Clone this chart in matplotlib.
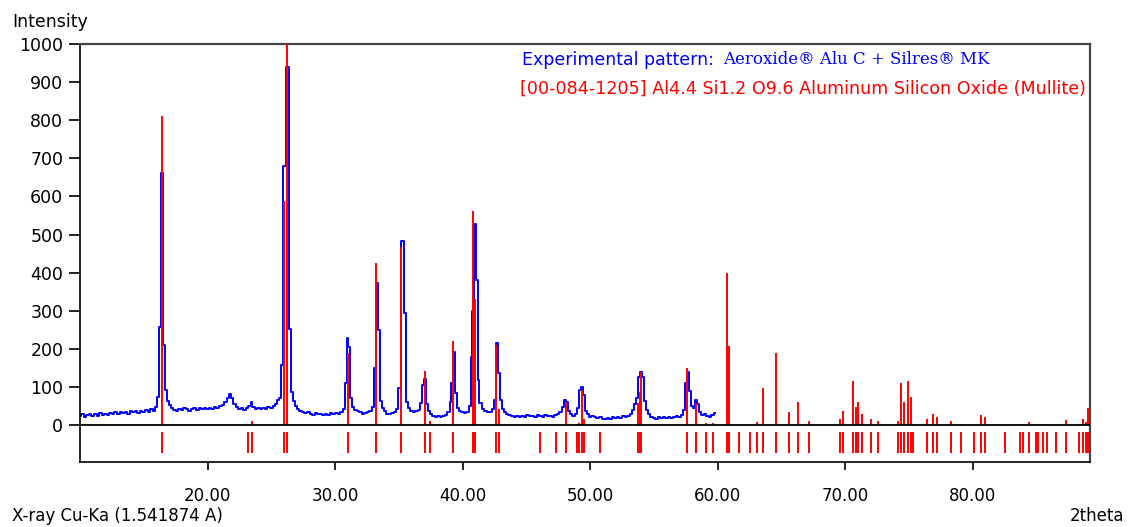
import matplotlib
matplotlib.use("Agg")
import matplotlib.pyplot as plt

# Experimental XRD pattern (2theta in degrees, intensity in counts)
exp_tth = [
    10.0, 10.2, 10.4, 10.6, 10.8, 11.0, 11.2, 11.4, 11.6, 11.8,
    12.0, 12.2, 12.4, 12.6, 12.8, 13.0, 13.2, 13.4, 13.6, 13.8,
    14.0, 14.2, 14.4, 14.6, 14.8, 15.0, 15.2, 15.4, 15.6, 15.8,
    16.0, 16.15, 16.3, 16.45, 16.6, 16.75, 16.9, 17.05, 17.2, 17.4,
    17.6, 17.8, 18.0, 18.2, 18.4, 18.6, 18.8, 19.0, 19.2, 19.4,
    19.6, 19.8, 20.0, 20.2, 20.4, 20.6, 20.8, 21.0, 21.2, 21.4,
    21.6, 21.75, 21.9, 22.1, 22.3, 22.5, 22.7, 22.9, 23.1, 23.3,
    23.45, 23.6, 23.8, 24.0, 24.2, 24.4, 24.6, 24.8, 25.0, 25.2,
    25.4, 25.55, 25.7, 25.85, 26.05, 26.3, 26.45, 26.6, 26.75, 26.9,
    27.1, 27.3, 27.5, 27.7, 27.9, 28.1, 28.3, 28.5, 28.7, 28.9,
    29.1, 29.3, 29.5, 29.7, 29.9, 30.1, 30.3, 30.5, 30.7, 30.85,
    31.0, 31.1, 31.25, 31.4, 31.6, 31.8, 32.0, 32.2, 32.4, 32.6,
    32.8, 32.95, 33.1, 33.3, 33.45, 33.6, 33.75, 33.9, 34.1, 34.3,
    34.5, 34.7, 34.9, 35.05, 35.35, 35.5, 35.65, 35.8, 36.0, 36.2,
    36.4, 36.6, 36.75, 36.9, 37.05, 37.2, 37.35, 37.5, 37.7, 37.9,
    38.1, 38.3, 38.5, 38.7, 38.9, 39.05, 39.15, 39.3, 39.45, 39.6,
    39.8, 40.0, 40.2, 40.4, 40.55, 40.7, 40.85, 41.0, 41.1, 41.25,
    41.4, 41.6, 41.8, 42.0, 42.2, 42.4, 42.55, 42.7, 42.85, 43.0,
    43.15, 43.3, 43.5, 43.7, 43.9, 44.1, 44.3, 44.5, 44.7, 44.9,
    45.1, 45.3, 45.5, 45.7, 45.9, 46.1, 46.3, 46.5, 46.7, 46.9,
    47.1, 47.3, 47.5, 47.7, 47.9, 48.05, 48.2, 48.35, 48.5, 48.7,
    48.9, 49.05, 49.2, 49.35, 49.5, 49.65, 49.8, 50.0, 50.2, 50.4,
    50.6, 50.8, 51.0, 51.2, 51.4, 51.6, 51.8, 52.0, 52.2, 52.4,
    52.6, 52.8, 53.0, 53.2, 53.4, 53.55, 53.7, 53.85, 54.0, 54.15,
    54.3, 54.45, 54.6, 54.8, 55.0, 55.2, 55.4, 55.6, 55.8, 56.0,
    56.2, 56.4, 56.6, 56.8, 57.0, 57.2, 57.4, 57.55, 57.7, 57.85,
    58.0, 58.15, 58.3, 58.45, 58.6, 58.8, 59.0, 59.2, 59.4, 59.6,
    59.8,
]
exp_counts = [
    24, 28, 22, 26, 30, 25, 29, 23, 31, 27,
    30, 26, 32, 28, 33, 29, 34, 31, 35, 30,
    36, 33, 37, 32, 38, 35, 39, 34, 41, 38,
    48, 74, 258, 662, 210, 92, 64, 52, 44, 40,
    38, 43, 40, 44, 41, 37, 43, 45, 40, 44,
    42, 46, 41, 45, 42, 47, 44, 49, 52, 60,
    72, 82, 70, 56, 48, 42, 45, 40, 44, 50,
    60, 48, 42, 45, 41, 46, 43, 47, 45, 50,
    55, 66, 72, 157, 680, 940, 252, 87, 62, 50,
    42, 38, 34, 31, 33, 29, 27, 31, 28, 30,
    26, 29, 27, 31, 28, 31, 29, 34, 42, 111,
    229, 205, 70, 48, 40, 36, 33, 30, 32, 35,
    38, 48, 151, 372, 249, 63, 45, 36, 30, 28,
    31, 34, 42, 96, 484, 293, 61, 45, 38, 34,
    36, 40, 58, 105, 122, 55, 38, 30, 24, 22,
    24, 21, 23, 26, 34, 60, 110, 192, 83, 44,
    36, 33, 31, 34, 50, 179, 300, 528, 380, 118,
    57, 42, 36, 33, 35, 42, 66, 216, 136, 66,
    42, 34, 30, 27, 24, 22, 25, 20, 24, 22,
    26, 23, 25, 21, 27, 24, 22, 26, 23, 25,
    22, 26, 28, 33, 48, 66, 60, 38, 28, 24,
    30, 45, 92, 100, 80, 38, 28, 22, 25, 20,
    18, 22, 17, 16, 19, 17, 20, 18, 22, 19,
    24, 22, 25, 28, 40, 55, 70, 126, 140, 126,
    62, 39, 28, 22, 19, 17, 20, 18, 21, 19,
    22, 18, 20, 23, 21, 26, 40, 110, 138, 90,
    50, 45, 66, 55, 35, 26, 30, 24, 20, 26,
    32,
]

# Reference pattern 00-084-1205 (Mullite): line positions and relative intensities
ref_tth = [
    16.40, 23.16, 23.47, 25.98, 26.25, 31.00, 33.20, 35.20, 37.05, 37.47,
    39.24, 40.81, 40.97, 42.59, 42.82, 46.04, 47.35, 48.08, 48.97, 49.12,
    49.39, 49.49, 50.80, 53.75, 53.90, 54.02, 57.62, 58.33, 59.06, 59.63,
    60.73, 60.89, 61.70, 62.51, 63.10, 63.56, 64.60, 65.57, 66.30, 67.20,
    69.60, 69.80, 70.61, 70.82, 71.02, 71.30, 72.00, 72.54, 74.14, 74.40,
    74.64, 74.90, 75.14, 75.32, 76.44, 76.89, 77.18, 78.33, 79.06, 80.08,
    80.66, 80.94, 82.51, 83.69, 83.92, 84.42, 84.96, 85.10, 85.50, 85.80,
    86.56, 87.29, 88.36, 88.68, 88.88, 89.04,
]
ref_int = [
    810, 2, 10, 588, 1000, 188, 426, 466, 143, 10,
    220, 563, 330, 210, 41, 3, 4, 61, 4, 6,
    92, 15, 4, 57, 87, 140, 151, 57, 6, 6,
    398, 208, 3, 3, 9, 96, 188, 35, 61, 10,
    15, 38, 115, 48, 61, 29, 15, 10, 11, 111,
    61, 115, 74, 2, 15, 29, 20, 11, 2, 2,
    26, 22, 2, 2, 2, 9, 2, 2, 2, 4,
    2, 13, 4, 15, 8, 45,
]

x_ticks = [20, 30, 40, 50, 60, 70, 80]
y_ticks = [0, 100, 200, 300, 400, 500, 600, 700, 800, 900, 1000]

BLUE = "#0000FF"
RED = "#FF0000"
plt.rcParams["font.family"] = ["DejaVu Sans"]

fig = plt.figure(figsize=(11.3, 5.27), dpi=100)
ax = fig.add_axes([80 / 1130, 1 - 462 / 527, 1010 / 1130, 418 / 527])

ax.set_xlim(10.0, 89.2)
ax.set_ylim(-97, 1000)

# experimental pattern
ax.plot(exp_tth, exp_counts, color=BLUE, lw=1.4, drawstyle="steps-mid", zorder=2)

# reference sticks above the baseline and marker row below it
ax.vlines(ref_tth, 0, ref_int, color=RED, lw=1.4, zorder=3)
ax.vlines(ref_tth, -73, -18, color=RED, lw=1.4, zorder=3)

ax.axhline(0, color="black", lw=1.3, zorder=4)

# frame
for side in ("left", "bottom"):
    ax.spines[side].set_color("black")
    ax.spines[side].set_linewidth(1.2)
for side in ("top", "right"):
    ax.spines[side].set_color("#444444")
    ax.spines[side].set_linewidth(1.6)

ax.set_xticks(x_ticks)
ax.set_xticklabels([f"{v:.2f}" for v in x_ticks])
ax.set_yticks(y_ticks)
ax.set_yticklabels([str(v) for v in y_ticks])
ax.tick_params(axis="x", direction="out", length=6, width=1.2, pad=12,
               labelsize=12, colors="black")
ax.tick_params(axis="y", direction="out", length=8, width=1.2, pad=4,
               labelsize=12.5, colors="black")

# axis captions
fig.text(12 / 1130, 1 - 22 / 527, "Intensity", fontsize=12.5, va="center", ha="left")
fig.text(12 / 1130, 1 - 516 / 527, "X-ray Cu-Ka (1.541874 A)", fontsize=12,
         va="center", ha="left")
fig.text(1124 / 1130, 1 - 516 / 527, "2theta", fontsize=12, va="center", ha="right")

# legend lines
t1 = fig.text(522 / 1130, 1 - 60 / 527, "Experimental pattern:", color=BLUE,
              fontsize=12.5, va="center", ha="left")
fig.canvas.draw()
bb = t1.get_window_extent()
x_next = fig.transFigure.inverted().transform((bb.x1 + 9, 0))[0]
fig.text(x_next, 1 - 60 / 527, "Aeroxide® Alu C + Silres® MK", color=BLUE,
         fontsize=12, family="DejaVu Serif", va="center", ha="left")
fig.text(520 / 1130, 1 - 89 / 527,
         "[00-084-1205] Al4.4 Si1.2 O9.6 Aluminum Silicon Oxide (Mullite)",
         color=RED, fontsize=12.6, va="center", ha="left")

fig.savefig("out.png", dpi=100)
